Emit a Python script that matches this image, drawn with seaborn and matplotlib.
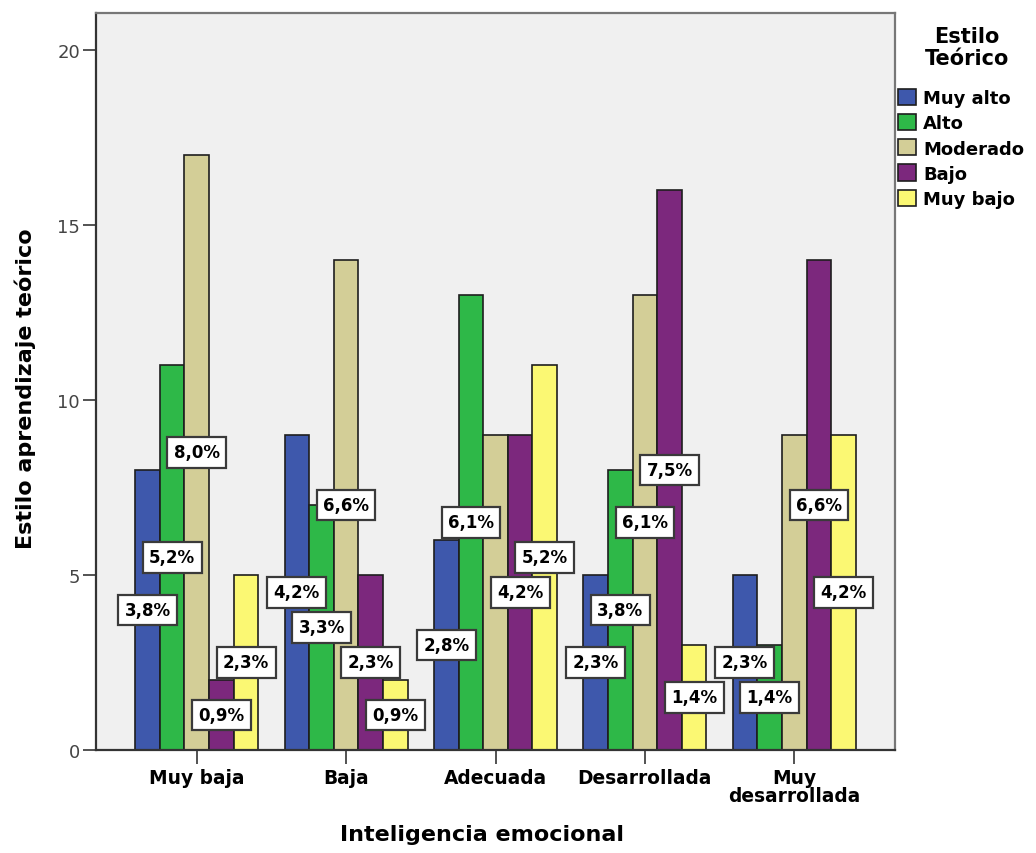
import matplotlib
matplotlib.use("Agg")
import matplotlib.pyplot as plt
from matplotlib.patches import Patch
import pandas as pd
import seaborn as sns

# Categories (x axis) and learning-style levels (hue)
niveles_ie = ["Muy baja", "Baja", "Adecuada", "Desarrollada", "Muy\ndesarrollada"]
estilos = ["Muy alto", "Alto", "Moderado", "Bajo", "Muy bajo"]

# Counts per emotional-intelligence level for each style level
muy_alto = [8, 9, 6, 5, 5]
alto = [11, 7, 13, 8, 3]
moderado = [17, 14, 9, 13, 9]
bajo = [2, 5, 9, 16, 14]
muy_bajo = [5, 2, 11, 3, 9]

y_ticks = [0, 5, 10, 15, 20]
colores = ["#3E58AC", "#2EB848", "#D3CE97", "#7C287D", "#FBF873"]

series = [muy_alto, alto, moderado, bajo, muy_bajo]
total = sum(sum(s) for s in series)

rows = []
for estilo, valores in zip(estilos, series):
    for nivel, n in zip(niveles_ie, valores):
        rows.append({"nivel": nivel, "estilo": estilo, "n": n})
df = pd.DataFrame(rows)

W, H = 1036, 854
fig = plt.figure(figsize=(W / 100, H / 100), dpi=100)
ax = fig.add_axes([96 / W, 103 / H, 799 / W, 737 / H])

sns.barplot(data=df, x="nivel", y="n", hue="estilo", order=niveles_ie,
            hue_order=estilos, palette=colores, saturation=1, width=0.825,
            gap=0, edgecolor="#1e1e1e", linewidth=1.2, errorbar=None,
            legend=False, ax=ax, zorder=2)

ax.set_xlim(-0.675, 4.675)
ax.set_ylim(0, 21.05)
ax.set_facecolor("#F0F0F0")
ax.set_yticks(y_ticks)

ax.tick_params(axis="y", length=9.5, width=1.3, color="#444444",
               labelsize=13, labelcolor="#444444", pad=2)
ax.tick_params(axis="x", length=10, width=1.3, color="#444444",
               labelsize=13.4, labelcolor="black", pad=3)
for lbl in ax.get_xticklabels():
    lbl.set_fontweight("bold")
    lbl.set_linespacing(0.95)

for side in ["left", "bottom"]:
    ax.spines[side].set_color("#333333")
    ax.spines[side].set_linewidth(1.6)
for side in ["top", "right"]:
    ax.spines[side].set_color("#777777")
    ax.spines[side].set_linewidth(1.6)

ax.set_xlabel("Inteligencia emocional", fontsize=16, fontweight="bold")
ax.set_ylabel("Estilo aprendizaje teórico", fontsize=16, fontweight="bold")
ax.xaxis.set_label_coords(0.483, -0.101)
ax.yaxis.set_label_coords(-0.075, 0.491)

# Percentage labels at mid-height of each bar; a label that would overlap
# one already placed is left out (later series take precedence).
fig.canvas.draw()
renderer = fig.canvas.get_renderer()
fs = 12
pad = 0.38
pad_px = pad * fs * 100 / 72
placed = []
for i in reversed(range(len(estilos))):
    cont = ax.containers[i]
    for j, bar in enumerate(cont):
        n = series[i][j]
        pct = n / total * 100
        txt = f"{pct:.1f}%".replace(".", ",")
        x = bar.get_x() + bar.get_width() / 2
        t = ax.text(x, n / 2, txt, ha="center", va="center", fontsize=fs,
                    fontweight="bold", zorder=5,
                    bbox=dict(boxstyle=f"square,pad={pad}", fc="white",
                              ec="#3a3a3a", lw=1.6))
        bb = t.get_window_extent(renderer=renderer).padded(pad_px)
        if any(bb.overlaps(o) for o in placed):
            t.remove()
        else:
            placed.append(bb)

# Legend
handles = [Patch(facecolor=c, edgecolor="#1e1e1e", linewidth=1.2) for c in colores]
fig.text(967 / W, 1 - 27 / H, "Estilo\nTeórico", ha="center", va="top",
         fontsize=15, fontweight="bold", linespacing=1.15)
fig.legend(handles, estilos, loc="upper left",
           bbox_to_anchor=(898 / W, 1 - 90 / H), frameon=False,
           prop={"weight": "bold", "size": 13}, handlelength=1.0,
           handleheight=1.0, handletextpad=0.4, labelspacing=0.38,
           borderpad=0, borderaxespad=0)

fig.savefig("out.png", dpi=100)
